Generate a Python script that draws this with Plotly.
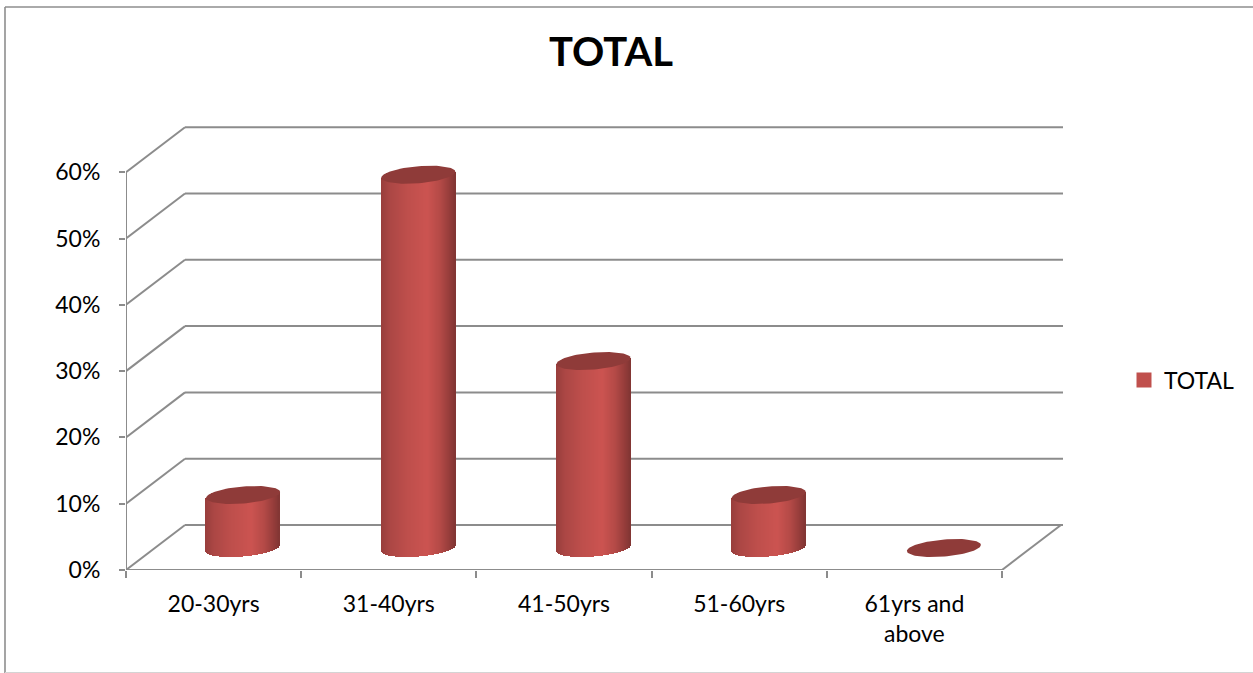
import numpy as np
import plotly.graph_objects as go

# Chart data
categories = ["20-30yrs", "31-40yrs", "41-50yrs", "51-60yrs", "61yrs and<br>above"]
shares = [8, 56.3, 28.2, 8, 0]
y_ticks = [0, 10, 20, 30, 40, 50, 60]
series_name = "TOTAL"

# Page and plot-area geometry, in pixels
WIDTH, HEIGHT = 1253, 673
LEFT, RIGHT, TOP, BOTTOM = 126, 1064, 126, 570
PX_PER_CAT = 175.2
PX_PER_PCT = 6.63

# Pseudo-3D depth of the floor and the cylinder shape, in pixels
DEPTH_X, DEPTH_Y = 59, 45
CYL_SHIFT_X, CYL_SHIFT_Y = 29.5, 22
RX, RY, TILT = 37, 8.5, 3

GRID = "#8c8c8c"
BODY = "#c0504d"
CAP = "#8f3b39"
FONT = "Lato, Carlito, sans-serif"


def to_x(px):
    return px / PX_PER_CAT


def to_y(px):
    return px / PX_PER_PCT


def shade(u):
    """Cylinder side colour at u in [-1, 1] across its width."""
    stops_u = [-1.0, -0.75, -0.3, 0.25, 0.6, 0.85, 1.0]
    stops_r = [152, 172, 190, 204, 180, 150, 130]
    stops_g = [62, 71, 79, 84, 74, 61, 54]
    stops_b = [60, 69, 76, 81, 71, 59, 52]
    return "rgb(%d,%d,%d)" % (
        np.interp(u, stops_u, stops_r),
        np.interp(u, stops_u, stops_g),
        np.interp(u, stops_u, stops_b),
    )


centers = [i + 0.5 + to_x(CYL_SHIFT_X) for i in range(len(categories))]
floor_level = to_y(CYL_SHIFT_Y)

fig = go.Figure()

# Flat bar carrying the series and its legend entry
fig.add_trace(go.Bar(
    name=series_name,
    x=centers,
    y=shares,
    base=[floor_level] * len(shares),
    width=to_x(60),
    marker=dict(color=BODY, line=dict(color=BODY, width=3)),
    showlegend=True,
    hoverinfo="skip",
))

# Curved side of each cylinder, built from narrow shaded strips
strip_offsets = np.arange(-RX + 0.5, RX, 1.0)
strip_x, strip_base, strip_h, strip_col = [], [], [], []
for cx, value in zip(centers, shares):
    if value <= 0:
        continue
    for off in strip_offsets:
        u = off / RX
        rise = -TILT * u
        front = RY * np.sqrt(1 - u * u)
        low = floor_level - to_y(rise + front)
        high = floor_level + value - to_y(rise)
        strip_x.append(cx + to_x(off))
        strip_base.append(low)
        strip_h.append(high - low)
        strip_col.append(shade(u))
fig.add_trace(go.Bar(
    x=strip_x,
    y=strip_h,
    base=strip_base,
    width=to_x(1.6),
    marker=dict(color=strip_col, line=dict(width=0)),
    showlegend=False,
    hoverinfo="skip",
))

# Elliptical top of each cylinder
t = np.linspace(0, 2 * np.pi, 90)
for cx, value in zip(centers, shares):
    fig.add_trace(go.Scatter(
        x=cx + to_x(RX * np.cos(t)),
        y=floor_level + value - to_y(RY * np.sin(t) - TILT * np.cos(t)),
        mode="lines",
        fill="toself",
        fillcolor=CAP,
        line=dict(width=0, color=CAP),
        showlegend=False,
        hoverinfo="skip",
    ))

# Walls and floor behind the cylinders
x_end = to_x(RIGHT - 1 - LEFT)
dx, dy = to_x(DEPTH_X), to_y(DEPTH_Y)
n = len(categories)
line_style = dict(color=GRID, width=2)
shapes = []


def segment(x0, y0, x1, y1):
    shapes.append(dict(type="line", xref="x", yref="y", layer="below",
                       x0=x0, y0=y0, x1=x1, y1=y1, line=line_style))


for v in y_ticks:
    segment(0, v, dx, v + dy)
    segment(dx, v + dy, x_end, v + dy)
segment(0, 0, 0, y_ticks[-1])
segment(0, 0, n, 0)
segment(n, 0, n + dx, dy)

# Outer chart frame
plot_w, plot_h = RIGHT - LEFT, BOTTOM - TOP


def paper_x(px):
    return (px - LEFT) / plot_w


def paper_y(px):
    return (BOTTOM - px) / plot_h


shapes.append(dict(type="line", xref="paper", yref="paper", layer="below",
                   x0=paper_x(5), x1=paper_x(5), y0=paper_y(7), y1=paper_y(673),
                   line=dict(color="#8e8e8e", width=1.6)))
shapes.append(dict(type="line", xref="paper", yref="paper", layer="below",
                   x0=paper_x(5), x1=paper_x(1253), y0=paper_y(7), y1=paper_y(7),
                   line=dict(color="#8e8e8e", width=1.6)))
shapes.append(dict(type="line", xref="paper", yref="paper", layer="below",
                   x0=paper_x(5), x1=paper_x(1253), y0=paper_y(672.5), y1=paper_y(672.5),
                   line=dict(color="#d4d4d4", width=1)))

fig.update_layout(
    width=WIDTH,
    height=HEIGHT,
    margin=dict(l=LEFT, r=WIDTH - RIGHT, t=TOP, b=HEIGHT - BOTTOM, autoexpand=False),
    barmode="overlay",
    bargap=0,
    paper_bgcolor="white",
    plot_bgcolor="white",
    font=dict(family=FONT, color="black", size=23),
    title=dict(text="<b>TOTAL</b>", x=611 / WIDTH, xanchor="center",
               y=1 - 52 / HEIGHT, yanchor="middle",
               font=dict(family=FONT, size=40, color="black")),
    shapes=shapes,
    showlegend=True,
    legend=dict(x=paper_x(1124), xanchor="left", y=paper_y(380), yanchor="middle",
                bgcolor="rgba(0,0,0,0)", font=dict(size=23), itemwidth=30),
    xaxis=dict(
        range=[0, plot_w / PX_PER_CAT],
        tickvals=[i + 0.5 for i in range(n)],
        ticktext=categories,
        ticks="",
        ticklen=0,
        showgrid=False,
        zeroline=False,
        showline=False,
        ticklabelstandoff=18,
        minor=dict(tickvals=list(range(n + 1)), ticks="outside", ticklen=7,
                   tickcolor=GRID, tickwidth=2, showgrid=False),
    ),
    yaxis=dict(
        range=[0, plot_h / PX_PER_PCT],
        tickvals=y_ticks,
        ticktext=[f"{v}%" for v in y_ticks],
        ticks="outside",
        ticklen=6,
        tickcolor=GRID,
        tickwidth=2,
        showgrid=False,
        zeroline=False,
        showline=False,
        ticklabelstandoff=14,
    ),
)

fig.write_html("out.html", config={"displayModeBar": False})
